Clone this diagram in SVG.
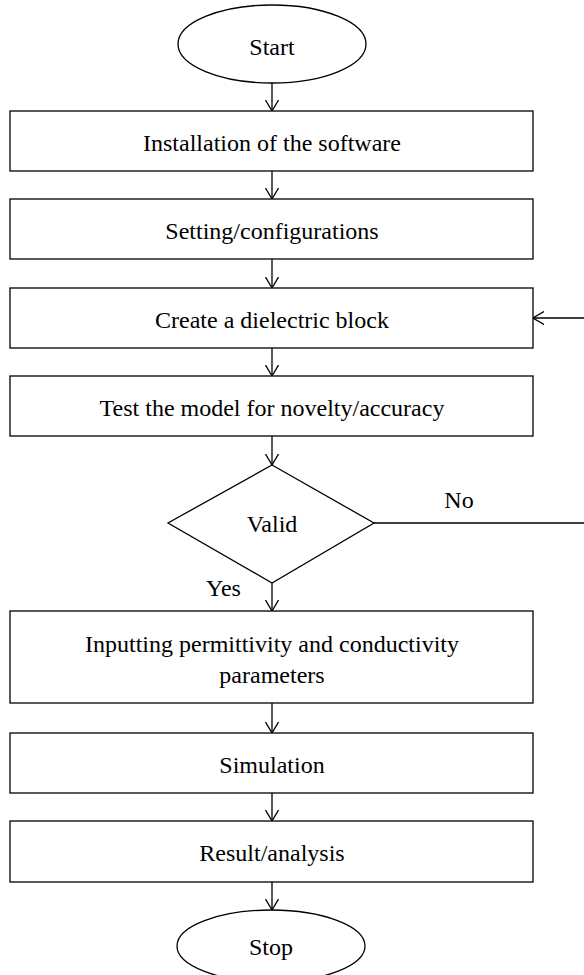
<svg xmlns="http://www.w3.org/2000/svg" width="584" height="975" viewBox="0 0 584 975">
<style>
.s{fill:#fff;stroke:#000;stroke-width:1.3}
.t{font-family:"Liberation Serif","Times New Roman",serif;font-size:24px;fill:#000;text-anchor:middle}
.c{fill:none;stroke:#000;stroke-width:1.3}
</style>
<defs>
<marker id="a" viewBox="0 0 12 14" refX="11" refY="7" markerWidth="12" markerHeight="14" markerUnits="userSpaceOnUse" orient="auto">
<path d="M0,0.5 L11,7 L0,13.5" fill="none" stroke="#000" stroke-width="1.3"/>
</marker>
</defs>
<rect width="584" height="975" fill="#fff"/>
<g id="connectors">
<line class="c" x1="272" y1="82" x2="272" y2="111" marker-end="url(#a)"/>
<line class="c" x1="272" y1="171" x2="272" y2="199" marker-end="url(#a)"/>
<line class="c" x1="272" y1="259" x2="272" y2="288" marker-end="url(#a)"/>
<line class="c" x1="272" y1="348" x2="272" y2="376" marker-end="url(#a)"/>
<line class="c" x1="272" y1="436" x2="272" y2="465" marker-end="url(#a)"/>
<line class="c" x1="272" y1="583" x2="272" y2="611" marker-end="url(#a)"/>
<line class="c" x1="272" y1="703" x2="272" y2="733" marker-end="url(#a)"/>
<line class="c" x1="272" y1="793" x2="272" y2="821" marker-end="url(#a)"/>
<line class="c" x1="272" y1="882" x2="272" y2="910" marker-end="url(#a)"/>
<polyline class="c" points="374,523 586,523 586,318 533,318" marker-end="url(#a)"/>
<text class="t" x="459" y="508">No</text>
<text class="t" x="206" y="596" style="text-anchor:start">Yes</text>
</g>
<g id="start">
<ellipse class="s" cx="272" cy="44" rx="94" ry="39"/>
<text class="t" x="272" y="55">Start</text>
</g>
<g id="install">
<rect class="s" x="10" y="111" width="523" height="60"/>
<text class="t" x="272" y="151">Installation of the software</text>
</g>
<g id="settings">
<rect class="s" x="10" y="199" width="523" height="60"/>
<text class="t" x="272" y="239">Setting/configurations</text>
</g>
<g id="create">
<rect class="s" x="10" y="288" width="523" height="60"/>
<text class="t" x="272" y="328">Create a dielectric block</text>
</g>
<g id="test">
<rect class="s" x="10" y="376" width="523" height="60"/>
<text class="t" x="272" y="416">Test the model for novelty/accuracy</text>
</g>
<g id="valid">
<polygon class="s" points="272,465 374,523 272,583 168,523"/>
<text class="t" x="272" y="532">Valid</text>
</g>
<g id="input">
<rect class="s" x="10" y="611" width="523" height="92"/>
<text class="t" x="272" y="652">Inputting permittivity and conductivity</text>
<text class="t" x="272" y="683">parameters</text>
</g>
<g id="simulation">
<rect class="s" x="10" y="733" width="523" height="60"/>
<text class="t" x="272" y="773">Simulation</text>
</g>
<g id="result">
<rect class="s" x="10" y="821" width="523" height="61"/>
<text class="t" x="272" y="861">Result/analysis</text>
</g>
<g id="stop">
<ellipse class="s" cx="271" cy="946" rx="94" ry="36"/>
<text class="t" x="271" y="955">Stop</text>
</g>
</svg>
